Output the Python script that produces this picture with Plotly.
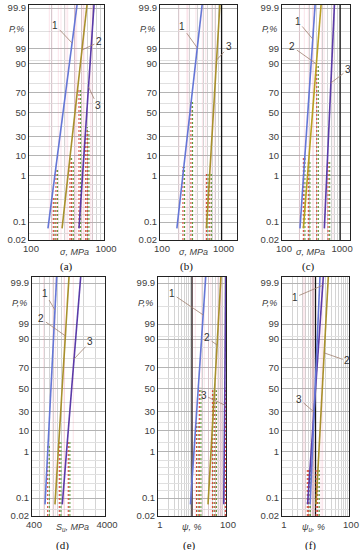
import math
import plotly.graph_objects as go

W, H = 362, 550

# ---- probability-paper ordinate (label -> position on the paper, 0..100) ----
P_LABELS = ["0.02", "0.1", "1", "10", "30", "50", "70", "90", "99", "99.9"]
P_POS = [0, 7.7, 27.8, 36.5, 44.7, 54.8, 63.6, 75.9, 82.4, 100]
P_MINOR = [2.8, 10.8, 14.1, 17.6, 20.9, 24.0, 31.6, 40.2, 48.9, 58.9, 67.5, 72.5, 77.2, 90.0]

Y_START = 5.0  # position where the fitted lines begin (~0.05 %)

# ---- panel data: fitted lines (x at start, x at top of frame) ----
A_NAMES = ["1", "2", "3"]
A_LOW = [179, 276, 464]
A_HIGH = [437, 593, 736]
A_DASH_X = [211, 229, 352, 371, 464, 570, 599]
A_DASH_P = [18.5, 31, 36, 34.5, 65.5, 48.7, 47]

B_NAMES = ["1", "3"]
B_LOW = [188, 568]
B_HIGH = [483, 938]
B_DASH_X = [236, 318, 567, 643]
B_DASH_P = [31.5, 60, 29, 29]

C_NAMES = ["1", "2", "3"]
C_LOW = [204, 233, 536]
C_HIGH = [371, 470, 798]
C_DASH_X = [233, 284, 396, 621]
C_DASH_P = [36, 34.5, 76, 34.5]

D_NAMES = ["1", "2", "3"]
D_LOW = [603, 826, 1040]
D_HIGH = [871, 1285, 1857]
D_DASH_X = [656, 946, 1256]
D_DASH_P = [30.5, 32.6, 32.6]

E_NAMES = ["1", "2", "3"]
E_LOW = [9.0, 29.6, 86]
E_HIGH = [25.3, 71, 99]
E_DASH_X = [13.6, 16.4, 40, 47, 95.5, 98]
E_DASH_P = [40, 55, 54, 54, 55, 55]

F_NAMES = ["1", "2", "3"]
F_LOW = [5.8, 10.4, 6.9]
F_HIGH = [17.1, 24.1, 13.6]
F_DASH_X = [5.7, 6.3, 10.4, 11.6]
F_DASH_P = [20, 20, 20, 20]

# label placement: (line index, position on the line, text offset dx, dy)
A_LAB = [(0, 84.9, -17, -18), (1, 81.9, 17, -8), (2, 66.0, 9, 19)]
B_LAB = [(0, 82.8, -15, -21), (1, 77.6, 12, -13)]
C_LAB = [(0, 86.6, -15, -18), (1, 75.9, -24, -17), (2, 67.7, 17, -13)]
D_LAB = [(0, 88.4, -10, -17), (1, 77.3, -24, -17), (2, 67.4, 16, -17)]
E_LAB = [(0, 86.3, -31, -21), (1, 73.4, -10, -7), (2, 47.6, -21, -10)]
F_LAB = [(0, 99.0, -28, 12), (1, 70.0, 23, 8), (2, 44.6, -15, -13)]

BLUE = "#6476d6"
OLIVE = "#a8902c"
PURPLE = "#5a3aa8"
RED_D = "#d8463a"
GRN_D = "#5f9a3c"
PINK = "rgba(236,130,160,0.22)"

PANELS = [
    dict(tag="(a)", xr=[100, 1000], ticks=[100, 1000], tt=["100", "1000"], title="<i>σ, MPa</i>",
         names=A_NAMES, low=A_LOW, high=A_HIGH, col=[BLUE, OLIVE, PURPLE], dx=A_DASH_X, dp=A_DASH_P,
         lab=A_LAB, black=[], box=(29, 104, 5, 240), tx=74, cx=66),
    dict(tag="(b)", xr=[100, 1780], ticks=[100, 1000], tt=["100", "1000"], title="<i>σ, MPa</i>",
         names=B_NAMES, low=B_LOW, high=B_HIGH, col=[BLUE, OLIVE], dx=B_DASH_X, dp=B_DASH_P,
         lab=B_LAB, black=[1000], box=(160, 237, 5, 240), tx=193, cx=187),
    dict(tag="(c)", xr=[100, 1480], ticks=[100, 1000], tt=["100", "1000"], title="<i>σ, MPa</i>",
         names=C_NAMES, low=C_LOW, high=C_HIGH, col=[BLUE, "#b8a020", PURPLE], dx=C_DASH_X, dp=C_DASH_P,
         lab=C_LAB, black=[1000], box=(282, 350, 5, 240), tx=310, cx=308),
    dict(tag="(d)", xr=[400, 4000], ticks=[400, 4000], tt=["400", "4000"], title="<i>S<sub>u</sub>, MPa</i>",
         names=D_NAMES, low=D_LOW, high=D_HIGH, col=[BLUE, OLIVE, PURPLE], dx=D_DASH_X, dp=D_DASH_P,
         lab=D_LAB, black=[], box=(32, 105, 277, 516), tx=72, cx=62),
    dict(tag="(e)", xr=[1, 100], ticks=[1, 100], tt=["1", "100"], title="<i>ψ, %</i>",
         names=E_NAMES, low=E_LOW, high=E_HIGH, col=[BLUE, OLIVE, PURPLE], dx=E_DASH_X, dp=E_DASH_P,
         lab=E_LAB, black=[10], box=(158, 226, 277, 516), tx=192, cx=189),
    dict(tag="(f)", xr=[1, 100], ticks=[1, 100], tt=["1", "100"], title="<i>ψ<sub>u</sub>, %</i>",
         names=F_NAMES, low=F_LOW, high=F_HIGH, col=[PURPLE, OLIVE, BLUE], dx=F_DASH_X, dp=F_DASH_P,
         lab=F_LAB, black=[10], box=(282, 349, 277, 516), tx=313, cx=310),
]

FONT = "Liberation Sans, Arial, sans-serif"
fig = go.Figure()
layout = dict(width=W, height=H, margin=dict(l=0, r=0, t=0, b=0, autoexpand=False),
              paper_bgcolor="white", plot_bgcolor="white", showlegend=False,
              annotations=[])

for i, p in enumerate(PANELS):
    n = i + 1
    xa = "x" if n == 1 else f"x{n}"
    ya = "y" if n == 1 else f"y{n}"
    x0, x1, y0, y1 = p["box"]
    top_row = y0 < 100
    # pixel scale of ordinate: pos 100 at label 99.9, pos 0 at axis
    p100 = 8 if top_row else 283
    ppu = (y1 - p100) / 100.0
    ymax = 100 + (p100 - y0) / ppu
    lmin, lmax = math.log10(p["xr"][0]), math.log10(p["xr"][1])
    px_dec = (x1 - x0) / (lmax - lmin)

    # minor vertical grid values
    minor_x = []
    for d in range(int(math.floor(lmin)) - 1, int(math.ceil(lmax)) + 1):
        for m in range(1, 10):
            v = m * 10 ** d
            if p["xr"][0] < v < p["xr"][1]:
                minor_x.append(v)

    layout["xaxis" if n == 1 else f"xaxis{n}"] = dict(
        domain=[x0 / W, x1 / W], anchor=ya, type="log", range=[lmin, lmax],
        tickvals=p["ticks"], ticktext=p["tt"], showgrid=False, zeroline=False,
        showline=True, mirror=True, linecolor="#222", linewidth=1, ticks="", automargin=False,
        ticklabelshift=2,
        tickfont=dict(family=FONT, size=9.5, color="#404040"),
        minor=dict(tickvals=minor_x, showgrid=True, gridcolor="#d4d4d4", gridwidth=1, ticks=""),
    )
    layout["yaxis" if n == 1 else f"yaxis{n}"] = dict(
        domain=[1 - y1 / H, 1 - y0 / H], anchor=xa, range=[0, ymax],
        tickvals=P_POS, ticktext=P_LABELS, showgrid=True, gridcolor="#b4b4b4", gridwidth=1,
        zeroline=False, showline=True, mirror=True, linecolor="#222", linewidth=1, ticks="",
        automargin=False,
        tickfont=dict(family=FONT, size=9.5, color="#404040"),
        minor=dict(tickvals=P_MINOR, showgrid=True, gridcolor="#e0e0e0", gridwidth=1, ticks=""),
    )

    # black decade lines
    for v in p["black"]:
        fig.add_trace(go.Scatter(x=[v, v], y=[0, ymax], mode="lines", xaxis=xa, yaxis=ya,
                                 line=dict(color="#111", width=1.3), hoverinfo="skip"))
    # faint pink band lines
    for v in p["dx"]:
        for f in (10 ** (-4 / px_dec), 10 ** (5 / px_dec)):
            fig.add_trace(go.Scatter(x=[v * f, v * f], y=[0, ymax], mode="lines", xaxis=xa, yaxis=ya,
                                     line=dict(color=PINK, width=1), hoverinfo="skip"))
    # dashed projections
    off = 10 ** (1.6 / px_dec)
    for v, lev in zip(p["dx"], p["dp"]):
        fig.add_trace(go.Scatter(x=[v, v], y=[0, lev], mode="lines", xaxis=xa, yaxis=ya,
                                 line=dict(color=RED_D, width=1.1, dash="2px,2px"), hoverinfo="skip"))
        fig.add_trace(go.Scatter(x=[v * off, v * off], y=[0, lev], mode="lines", xaxis=xa, yaxis=ya,
                                 line=dict(color=GRN_D, width=1.1, dash="2px,2px"), hoverinfo="skip"))
    # fitted lines
    for name, lo, hi, c in zip(p["names"], p["low"], p["high"], p["col"]):
        fig.add_trace(go.Scatter(x=[lo, hi], y=[Y_START, ymax], mode="lines", name=name,
                                 xaxis=xa, yaxis=ya, line=dict(color=c, width=1.6)))
    # numbered labels with leader lines
    for (k, lev, dx, dy) in p["lab"]:
        llo, lhi = math.log10(p["low"][k]), math.log10(p["high"][k])
        lx = llo + (lhi - llo) * (lev - Y_START) / (ymax - Y_START)
        layout["annotations"].append(dict(
            x=lx, y=lev, xref=xa, yref=ya, text=p["names"][k], showarrow=True,
            ax=dx, ay=dy, arrowhead=0, arrowwidth=0.8, arrowcolor="#a08070",
            font=dict(family=FONT, size=10, color="#333"), standoff=0, startstandoff=0))

    # axis title, P,% and panel tag
    ty = 252 if top_row else 527
    layout["annotations"].append(dict(x=p["tx"] / W, y=1 - ty / H, xref="paper", yref="paper",
                                      xanchor="center", yanchor="middle",
                                      text=p["title"], showarrow=False,
                                      font=dict(family=FONT, size=9, color="#404040")))
    py = 29 if top_row else 303
    layout["annotations"].append(dict(x=(x0 - 3) / W, y=1 - py / H, xref="paper", yref="paper",
                                      xanchor="right", yanchor="middle", text="<i>P,%</i>",
                                      showarrow=False,
                                      font=dict(family=FONT, size=9, color="#404040")))
    cy = 266 if top_row else 545
    layout["annotations"].append(dict(x=p["cx"] / W, y=1 - cy / H, xref="paper", yref="paper",
                                      xanchor="center", yanchor="middle",
                                      text=p["tag"], showarrow=False,
                                      font=dict(family="Liberation Serif, serif", size=11, color="#111")))

fig.update_layout(**layout)
fig.write_html("out.html", config={"displayModeBar": False},
               post_script="document.body.style.margin='0';document.body.style.overflow='hidden';")
